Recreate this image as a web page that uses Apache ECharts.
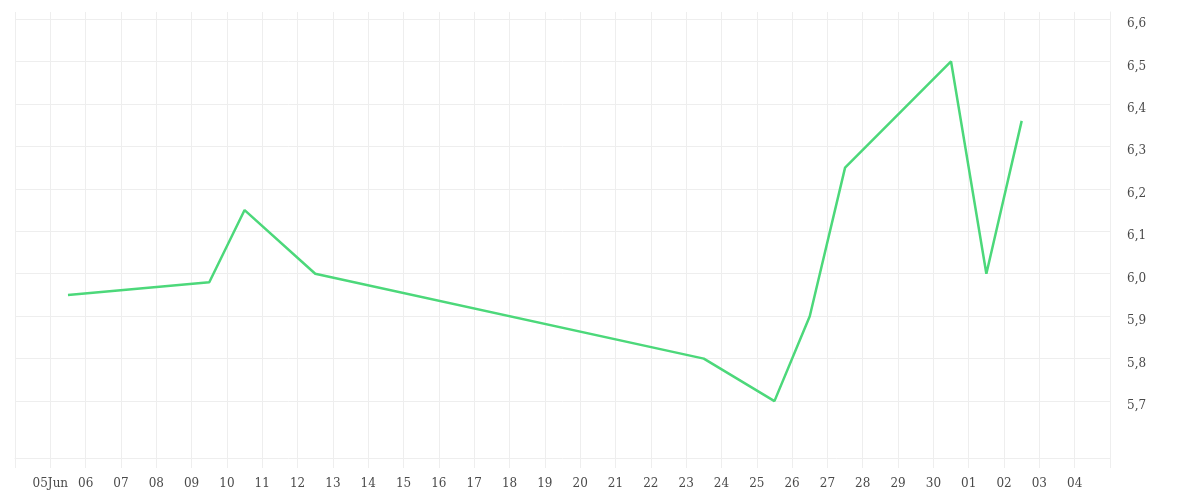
<!DOCTYPE html>
<html>
<head>
<meta charset="utf-8">
<script src="https://cdn.jsdelivr.net/npm/echarts@6/dist/echarts.min.js"></script>
<style>html,body{margin:0;padding:0;background:#fff}#c{width:1200px;height:500px}</style>
</head>
<body>
<div id="c"></div>
<script>
var dates = ['2024-06-05 12:00','2024-06-09 12:00','2024-06-10 12:00','2024-06-12 12:00','2024-06-23 12:00','2024-06-25 12:00','2024-06-26 12:00','2024-06-27 12:00','2024-06-30 12:00','2024-07-01 12:00','2024-07-02 12:00'];
var values = [5.95, 5.98, 6.15, 6.0, 5.8, 5.7, 5.9, 6.25, 6.5, 6.0, 6.36];
var yTicks = [5.7, 5.8, 5.9, 6.0, 6.1, 6.2, 6.3, 6.4, 6.5, 6.6];
var xStart = '2024-06-04';
var xEnd = '2024-07-05';
var yMin = 5.566, yMax = 6.6165;
var monthNames = ['Jan','Feb','Mar','Apr','May','Jun','Jul','Aug','Sep','Oct','Nov','Dec'];

var DAY = 86400000;
var startTs = echarts.time.parse(xStart).getTime();
var endTs = echarts.time.parse(xEnd).getTime();
function pad(n){return (n<10?'0':'')+n;}
var chart = echarts.init(document.getElementById('c'));
var font = '"DejaVu Serif", serif';
chart.setOption({
  animation: false,
  grid: {left: 15, right: 90, top: 12, bottom: 42},
  xAxis: {
    type: 'time',
    min: xStart,
    max: xEnd,
    minInterval: DAY,
    maxInterval: DAY,
    axisLine: {show: true, lineStyle: {color: '#eeeeee', width: 1}},
    axisTick: {show: true, length: 10, lineStyle: {color: '#eeeeee', width: 1}},
    splitLine: {show: true, lineStyle: {color: '#eeeeee', width: 1}},
    axisLabel: {
      showMinLabel: false,
      showMaxLabel: false,
      margin: 20,
      color: '#4a4a4a',
      fontFamily: font,
      fontSize: 12,
      hideOverlap: false,
      formatter: function (v) {
        var k = Math.round((v - startTs) / DAY);
        if (v <= startTs || v >= endTs) return '';
        var d = new Date(v);
        var s = pad(d.getDate());
        if (k === 1) s += monthNames[d.getMonth()];
        return s;
      }
    }
  },
  yAxis: {
    type: 'value',
    position: 'right',
    min: yMin,
    max: yMax,
    axisLine: {show: true, lineStyle: {color: '#eeeeee', width: 1}},
    axisTick: {show: false, customValues: yTicks},
    splitLine: {show: true, lineStyle: {color: '#eeeeee', width: 1}},
    axisLabel: {
      customValues: yTicks,
      margin: 17,
      color: '#4a4a4a',
      fontFamily: font,
      fontSize: 12,
      verticalAlign: 'top',
      lineHeight: 10,
      formatter: function (v) { return v.toFixed(1).replace('.', ','); }
    }
  },
  series: [{
    type: 'line',
    data: dates.map(function (d, i) { return [d, values[i]]; }),
    symbol: 'none',
    lineStyle: {color: '#4cd87a', width: 2.5},
    itemStyle: {color: '#4cd87a'}
  }]
});
</script>
</body>
</html>
